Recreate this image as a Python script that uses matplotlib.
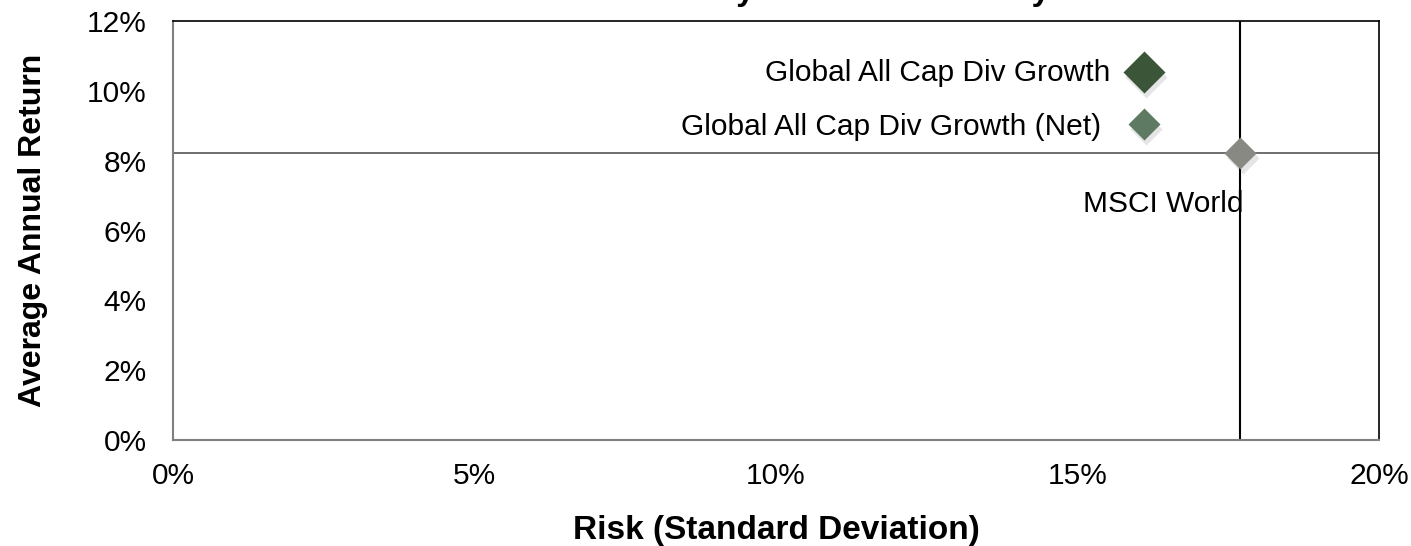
import numpy as np
import matplotlib.pyplot as plt
from matplotlib.ticker import FuncFormatter

plt.rcParams['font.family'] = ['Liberation Sans', 'DejaVu Sans']

# data (risk %, return %)
names = ['Global All Cap Div Growth', 'Global All Cap Div Growth (Net)', 'MSCI World']
risk = [16.1, 16.1, 17.7]
ret = [10.55, 9.05, 8.22]
colors = ['#3b5538', '#5f7a62', '#878982']
sizes = [21, 16, 16.5]

x_ticks = [0, 5, 10, 15, 20]
y_ticks = [0, 2, 4, 6, 8, 10, 12]

title = 'Risk vs. Return Analysis Since the Early 2007'

fs = 21.5
lfs = 24

fig = plt.figure(figsize=(14.11, 5.46), dpi=100)
ax = fig.add_axes([173/1411, 1-440/546, (1379-173)/1411, (440-21)/546])

# lines crossing at the benchmark
ax.axhline(ret[2], color='#555555', lw=1.2, zorder=1)
ax.axvline(risk[2], color='black', lw=1.5, zorder=1)

for i in range(3):
    # soft shadow
    ax.plot(risk[i] + 0.04, ret[i] - 0.15, marker='D', ms=sizes[i],
            color='#000000', alpha=0.10, ls='none', zorder=2, mec='none')
    ax.plot(risk[i], ret[i], marker='D', ms=sizes[i], color=colors[i],
            ls='none', zorder=3, mec='none')

ax.text(risk[0] - 0.55, ret[0] - 0.05, names[0], ha='right', va='center', fontsize=fs)
ax.text(risk[1] - 0.7, ret[1] - 0.1, names[1], ha='right', va='center', fontsize=fs)
ax.text(risk[2] + 0.05, ret[2] - 1.45, names[2], ha='right', va='center', fontsize=fs)

ax.set_xlim(0, 20)
ax.set_ylim(0, 12)
ax.set_xticks(x_ticks)
ax.set_yticks(y_ticks)
ax.xaxis.set_major_formatter(FuncFormatter(lambda v, p: f'{v:.0f}%'))
ax.yaxis.set_major_formatter(FuncFormatter(lambda v, p: f'{v:.0f}%'))
ax.tick_params(length=0, labelsize=fs)
ax.tick_params(axis='x', pad=16)
ax.tick_params(axis='y', pad=19)

for s in ['left', 'bottom']:
    ax.spines[s].set_color('#808080')
    ax.spines[s].set_linewidth(1.5)
for s in ['top', 'right']:
    ax.spines[s].set_color('black')
    ax.spines[s].set_linewidth(1.2)

ax.set_xlabel('Risk (Standard Deviation)', fontsize=lfs, fontweight='bold', labelpad=18)
ax.set_ylabel('Average Annual Return', fontsize=23, fontweight='bold', labelpad=28)

# title sits mostly above the canvas, as in the source (only descenders show)
# line it up so the first "y" lands near x=745px
r = fig.canvas.get_renderer()
def text_w(s):
    t = fig.text(0, 0, s, fontsize=lfs, fontweight='bold')
    w = t.get_window_extent(r).width
    t.remove()
    return w
k = title.index('y')
x0 = 745 - (text_w(title[:k]) + text_w('y') / 2)
fig.text(x0 / 1411, 1.0, title, ha='left', va='baseline', fontsize=lfs, fontweight='bold')

plt.savefig('out.png', dpi=100)
